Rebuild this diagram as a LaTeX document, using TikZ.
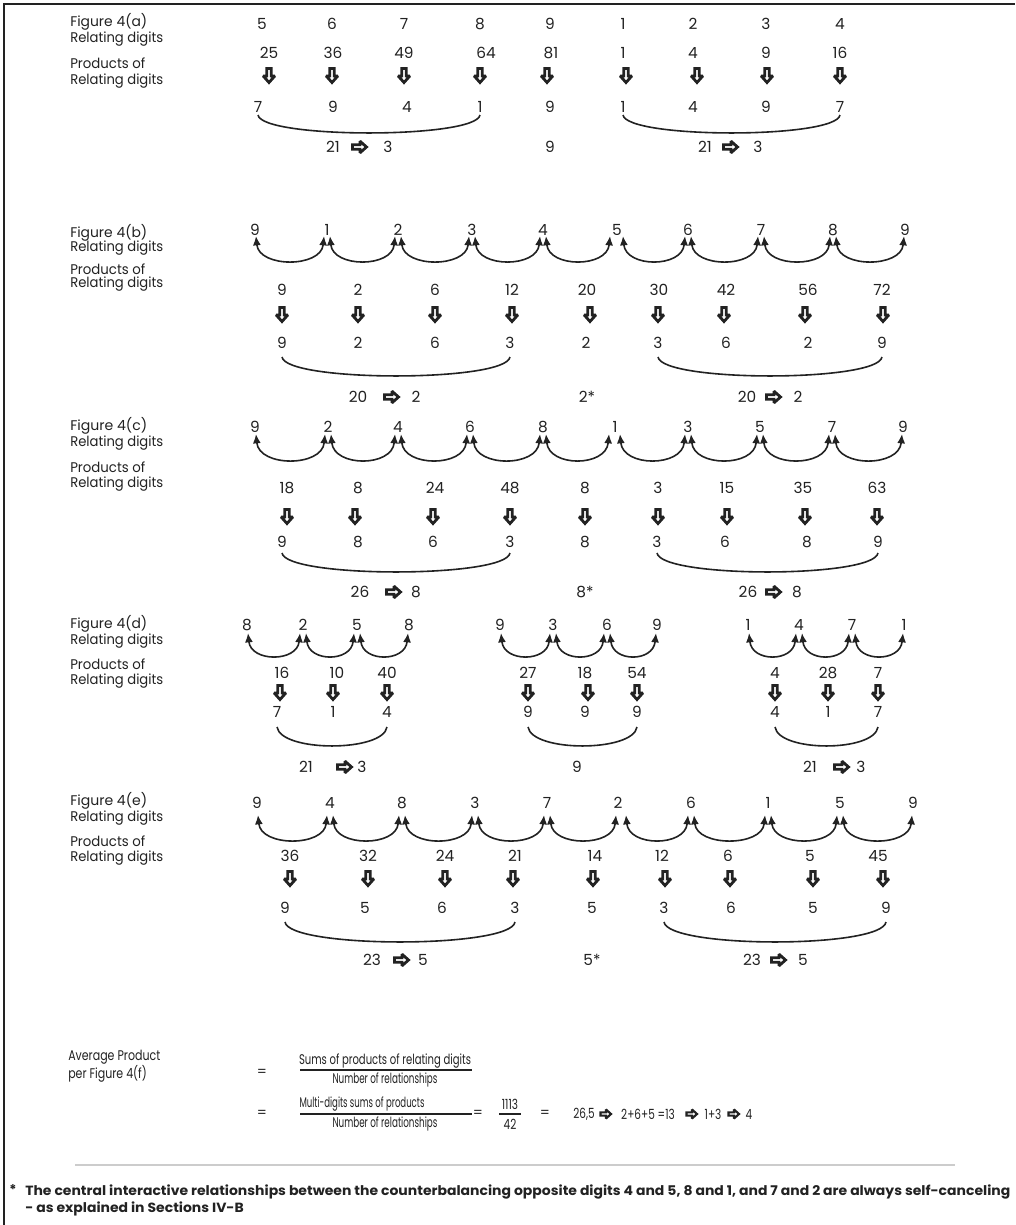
\documentclass[tikz,border=0pt]{standalone}
\usepackage{fontspec}
\setmainfont{Poppins}
\usetikzlibrary{arrows.meta,calc}
\definecolor{ink}{HTML}{222222}
\newcommand{\digf}{\fontsize{11.5}{13}\selectfont}
\newcommand{\lblf}{\fontsize{10.5}{12}\selectfont}
\newcommand{\frmf}{\fontsize{10.5}{12.75}\selectfont}
\newcommand{\fnf}{\fontsize{10}{12.75}\selectfont}
\newcommand{\fitw}[2]{\resizebox{\dimexpr #1pt*3/4\relax}{\height}{#2}}
\newcommand{\cnd}[1]{\scalebox{0.75}[1]{#1}}

\tikzset{
  lbl/.style={font=\lblf, anchor=west, inner sep=0pt, text=ink},
  dig/.style={font=\digf, inner sep=0pt, text=ink},
  frm/.style={font=\frmf, inner sep=0pt, text=ink},
  arcst/.style={draw=ink, line width=1.2pt, {Latex[length=7pt,width=6pt]}-{Latex[length=7pt,width=6pt]}},
  bracest/.style={draw=ink, line width=1.2pt},
  darr/.pic={\draw[draw=ink, line width=2.1pt, fill=white, line join=miter, miter limit=2]
     (-2.2,-7.5) -- (2.2,-7.5) -- (2.2,0) -- (5.8,0) -- (0,6.5) -- (-5.8,0) -- (-2.2,0) -- cycle;},
  rarr/.pic={\draw[draw=ink, line width=2.1pt, fill=white, line join=miter, miter limit=2]
     (-7.5,-2.2) -- (0,-2.2) -- (0,-5.8) -- (6.5,0) -- (0,5.8) -- (0,2.2) -- (-7.5,2.2) -- cycle;},
  srarr/.pic={\draw[draw=ink, line width=1.6pt, fill=white, line join=miter, miter limit=2]
     (-5.5,-1.6) -- (0,-1.6) -- (0,-4.5) -- (5,0) -- (0,4.5) -- (0,1.6) -- (-5.5,1.6) -- cycle;},
}

\newcommand{\figlabels}[6]{%
  \node[lbl] (#1l1) at (70,#3) {\fitw{77}{Figure 4(#2)}};
  \node[lbl] (#1l2) at (70,#4) {\fitw{93}{Relating digits}};
  \node[lbl] (#1l3) at (70,#5) {\fitw{75}{Products of}};
  \node[lbl] (#1l4) at (70,#6) {\fitw{93}{Relating digits}};}
\newcommand{\digrow}[3]{\foreach \x/\dd [count=\k] in {#3} {\node[dig] (#1\k) at (\x,#2) {\dd};}}
\newcommand{\arrrow}[2]{\foreach \x in {#2} {\pic at (\x,#1) {darr};}}
\newcommand{\arcrow}[4]{\foreach \i/\j/\ls/\rs in {#4} {\draw[arcst] ($(#1\i |- 0,#2)+(\ls,0)$) .. controls +(3,#3*1.33) and +(-3,#3*1.33) .. ($(#1\j |- 0,#2)+(-\rs,0)$);}}
\newcommand{\bracec}[4]{\draw[bracest] (#1 |- 0,#3) .. controls +(4,#4*1.33) and +(-4,#4*1.33) .. (#2 |- 0,#3);}
\newcommand{\sumgrp}[7]{\node[dig] (#1a) at (#2,#5) {#6}; \pic at (#3,#5) {rarr}; \node[dig] (#1b) at (#4,#5) {#7};}

\begin{document}
\begin{tikzpicture}[x=0.75pt,y=-0.75pt]
\useasboundingbox (0,0) rectangle (1015,1225);
\fill[white] (0,0) rectangle (1015,1225);
\draw[line width=2pt, ink] (4,1225) -- (4,4) -- (1015,4);

% ---------- Figure 4(a)
\figlabels{a}{a}{22}{39}{63}{81}
\digrow{at}{24}{262/5,332/6,404/7,480/8,550/9,623/1,693/2,766/3,840/4}
\digrow{ap}{53}{269/25,333/36,404/49,486/64,551/81,623/1,693/4,766/9,840/16}
\arrrow{76}{269,332,404,480,547,626,697,767,840}
\digrow{ar}{107}{258/7,333/9,407/4,480/1,550/9,623/1,693/4,766/9,840/7}
\bracec{ar1}{ar4}{115}{18}
\bracec{ar6}{ar9}{115}{18}
\sumgrp{as1}{333}{360}{388}{147}{21}{3}
\node[dig] (as2) at (550,147) {9};
\sumgrp{as3}{705}{731}{758}{147}{21}{3}

% ---------- Figure 4(b)
\figlabels{b}{b}{233}{248}{269}{284}
\digrow{bt}{230}{255/9,327/1,398/2,472/3,543/4,617/5,688/6,761/7,833/8,905/9}
\arcrow{bt}{236}{24}{1/2/1/3,2/3/3/3,3/4/3/3,4/5/3/3,5/6/3/7,6/7/6/3,7/8/3/3,8/9/3/3,9/10/3/1}
\digrow{bp}{290}{282/9,358/2,435/6,512/12,587/20,659/30,726/42,808/56,882/72}
\arrrow{315}{282,358,435,512,590,658,724,805,883}
\digrow{br}{343}{282/9,358/2,435/6,510/3,586/2,658/3,726/6,808/2,882/9}
\bracec{br1}{br4}{357}{19}
\bracec{br6}{br9}{357}{19}
\sumgrp{bs1}{358}{392}{416}{397}{20}{2}
\node[dig] (bs2) at (587,397) {2*};
\sumgrp{bs3}{747}{774}{798}{397}{20}{2}

% ---------- Figure 4(c)
\figlabels{c}{c}{426}{443}{467}{484}
\digrow{ct}{427}{255/9,328/2,398/4,470/6,543/8,615/1,688/3,760/5,832/7,903/9}
\arcrow{ct}{434}{25}{1/2/1/3,2/3/3/3,3/4/3/3,4/5/3/3,5/6/3/6,6/7/5/3,7/8/3/3,8/9/3/3,9/10/3/1}
\digrow{cp}{488}{287/18,358/8,435/24,510/48,585/8,658/3,727/15,803/35,877/63}
\arrrow{517}{287,355,433,510,585,658,727,805,877}
\digrow{cr}{542}{282/9,358/8,433/6,510/3,585/8,657/3,725/6,807/8,878/9}
\bracec{cr1}{cr4}{553}{19}
\bracec{cr6}{cr9}{553}{19}
\sumgrp{cs1}{360}{394}{416}{592}{26}{8}
\node[dig] (cs2) at (585,592) {8*};
\sumgrp{cs3}{748}{774}{797}{592}{26}{8}

% ---------- Figure 4(d)
\figlabels{d}{d}{624}{641}{664}{681}
\digrow{dt}{625}{247/8,303/2,357/5,409/8,500/9,553/3,607/6,657/9,748/1,799/4,852/7,904/1}
\arcrow{dt}{633}{22}{1/2/1/3,2/3/3/3,3/4/3/1,5/6/1/3,6/7/3/3,7/8/3/1,9/10/1/3,10/11/3/3,11/12/3/1}
\digrow{dp}{673}{282/16,337/10,387/40,528/27,585/18,637/54,775/4,828/28,878/7}
\arrrow{693}{280,333,387,528,588,637,775,828,878}
\digrow{dr}{712}{277/7,333/1,387/4,528/9,585/9,637/9,775/4,828/1,878/7}
\bracec{dr1}{dr3}{727}{19}
\bracec{dr4}{dr6}{727}{19}
\bracec{dr7}{dr9}{727}{19}
\sumgrp{ds1}{306}{345}{362}{767}{21}{3}
\node[dig] (ds2) at (577,767) {9};
\sumgrp{ds3}{810}{842}{861}{767}{21}{3}

% ---------- Figure 4(e)
\figlabels{e}{e}{801}{818}{841}{858}
\digrow{et}{803}{257/9,330/4,402/8,475/3,547/7,618/2,691/6,768/1,840/5,913/9}
\arcrow{et}{815}{24}{1/2/1/3,2/3/3/3,3/4/3/3,4/5/3/3,5/6/3/2,6/7/8/3,7/8/3/3,8/9/3/3,9/10/3/1}
\digrow{ep}{856}{290/36,368/32,445/24,515/21,595/14,662/12,728/6,810/5,878/45}
\arrrow{879}{290,368,445,513,593,665,730,813,883}
\digrow{er}{908}{285/9,365/5,442/6,515/3,592/5,664/3,731/6,813/5,886/9}
\bracec{er1}{er4}{922}{20}
\bracec{er6}{er9}{922}{20}
\sumgrp{es1}{372}{402}{423}{960}{23}{5}
\node[dig] (es2) at (592,960) {5*};
\sumgrp{es3}{752}{779}{803}{960}{23}{5}

% ---------- Average product formula
\node[frm, anchor=west] (avg) at (68,1066) {\fitw{92}{\begin{tabular}{@{}l@{}}Average Product\\per Figure 4(f)\end{tabular}}};
\node[frm] (eq1) at (262,1073) {=};
\node[frm] (n1) at (385,1061) {\fitw{172}{Sums of products of relating digits}};
\node[frm] (d1) at (385,1080) {\fitw{105}{Number of relationships}};
\draw[ink, line width=1.1pt] (300,1070) -- (472,1070);
\node[frm] (eq2) at (262,1114) {=};
\node[frm] (n2) at (362,1104) {\fitw{125}{Multi-digits sums of products}};
\node[frm] (d2) at (385,1124) {\fitw{105}{Number of relationships}};
\draw[ink, line width=1.1pt] (300,1114) -- (472,1114);
\node[frm] (eq3) at (478,1114) {=};
\node[frm] (n3) at (510,1104) {\cnd{1113}};
\node[frm] (d3) at (510,1124) {\cnd{42}};
\draw[ink, line width=0.8pt] (499,1114) -- (521,1114);
\node[frm] (eq4) at (545,1114) {=};
\node[frm] (v1) at (584,1114) {\cnd{26,5}};
\pic at (606,1114) {srarr};
\node[frm] (v2) at (648,1114) {\cnd{2+6+5 =13}};
\pic at (692,1114) {srarr};
\node[frm] (v3) at (713,1114) {\cnd{1+3}};
\pic at (734,1114) {srarr};
\node[frm] (v4) at (749,1114) {\cnd{4}};

\draw[gray!40, line width=1.1pt] (75,1165) -- (955,1165);

% ---------- footnote
\node[font=\fnf\bfseries, inner sep=0pt, text=ink, anchor=north] (fstar) at (13,1184) {*};
\node[font=\fnf\bfseries, inner sep=0pt, text=ink, anchor=north west] (fnote) at (25,1183) {\fitw{985}{\begin{tabular}{@{}l@{}}The central interactive relationships between the counterbalancing opposite digits 4 and 5, 8 and 1, and 7 and 2 are always self-canceling\\- as explained in Sections IV-B\end{tabular}}};
\end{tikzpicture}
\end{document}
